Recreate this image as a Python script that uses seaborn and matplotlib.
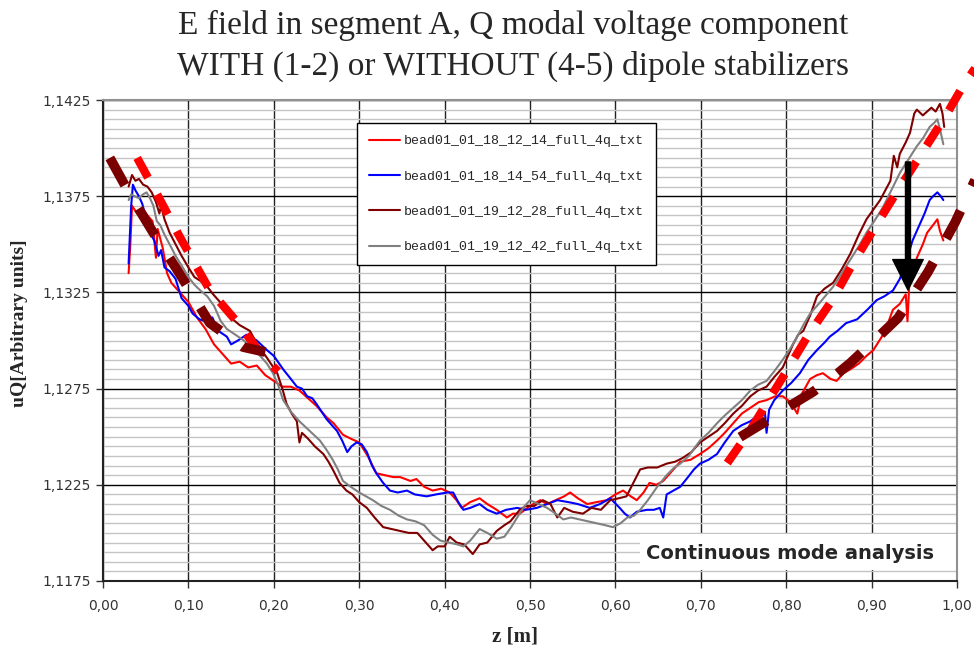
import numpy as np
import pandas as pd
import matplotlib
matplotlib.use("Agg")
import matplotlib.pyplot as plt
import seaborn as sns
from matplotlib.ticker import MultipleLocator, FixedLocator, FuncFormatter
from matplotlib.patches import Rectangle

# ---- data: z [m] and uQ [arbitrary units] ----
labels = ["bead01_01_18_12_14_full_4q_txt", "bead01_01_18_14_54_full_4q_txt",
          "bead01_01_19_12_28_full_4q_txt", "bead01_01_19_12_42_full_4q_txt"]
colors = ["#ff0000", "#0000ff", "#800000", "#808080"]
y_ticks = [1.1175, 1.1225, 1.1275, 1.1325, 1.1375, 1.1425]

z_red = [0.030, 0.032, 0.034, 0.040, 0.046, 0.052, 0.058, 0.062, 0.064, 0.070, 0.075, 0.080,
         0.090, 0.100, 0.110, 0.120, 0.130, 0.140, 0.150, 0.160, 0.170, 0.180, 0.190, 0.200,
         0.210, 0.220, 0.230, 0.240, 0.250, 0.262, 0.270, 0.281, 0.290, 0.300, 0.310, 0.320,
         0.330, 0.340, 0.348, 0.360, 0.367, 0.376, 0.386, 0.396, 0.406, 0.414, 0.420, 0.430,
         0.441, 0.450, 0.461, 0.473, 0.480, 0.488, 0.500, 0.512, 0.520, 0.530, 0.540, 0.547,
         0.556, 0.567, 0.578, 0.590, 0.600, 0.609, 0.618, 0.625, 0.633, 0.640, 0.648, 0.656,
         0.666, 0.676, 0.688, 0.699, 0.709, 0.719, 0.728, 0.738, 0.748, 0.758, 0.768, 0.777,
         0.787, 0.796, 0.805, 0.813, 0.818, 0.828, 0.836, 0.843, 0.852, 0.859, 0.867, 0.875,
         0.885, 0.894, 0.902, 0.912, 0.920, 0.925, 0.933, 0.940, 0.942, 0.944, 0.953, 0.960,
         0.965, 0.972, 0.977, 0.980, 0.984]
u_red = [1.1335, 1.1350, 1.1370, 1.1366, 1.1369, 1.1365, 1.1362, 1.1343, 1.1358, 1.1348, 1.1335, 1.1330,
         1.1325, 1.1320, 1.1312, 1.1306, 1.1298, 1.1293, 1.1288, 1.1289, 1.1286, 1.1287, 1.1282, 1.1279,
         1.1276, 1.1276, 1.1274, 1.1270, 1.1266, 1.1260, 1.1257, 1.1251, 1.1249, 1.1247, 1.1240, 1.1231,
         1.1230, 1.1229, 1.1229, 1.1227, 1.1228, 1.1224, 1.1222, 1.1223, 1.1221, 1.1217, 1.1213, 1.1216,
         1.1218, 1.1215, 1.1212, 1.1208, 1.1210, 1.1210, 1.1214, 1.1217, 1.1215, 1.1217, 1.1219, 1.1221,
         1.1218, 1.1215, 1.1216, 1.1217, 1.1220, 1.1222, 1.1219, 1.1217, 1.1221, 1.1226, 1.1225, 1.1227,
         1.1232, 1.1237, 1.1238, 1.1241, 1.1244, 1.1248, 1.1252, 1.1257, 1.1262, 1.1265, 1.1268, 1.1269,
         1.1271, 1.1271, 1.1268, 1.1262, 1.1272, 1.1280, 1.1282, 1.1283, 1.1280, 1.1279, 1.1283, 1.1285,
         1.1288, 1.1292, 1.1295, 1.1302, 1.1310, 1.1316, 1.1319, 1.1324, 1.1310, 1.1328, 1.1343, 1.1350,
         1.1356, 1.1360, 1.1363, 1.1357, 1.1352]

z_blue = [0.030, 0.031, 0.033, 0.035, 0.038, 0.042, 0.046, 0.050, 0.055, 0.060, 0.065, 0.068,
          0.072, 0.078, 0.085, 0.092, 0.100, 0.105, 0.113, 0.120, 0.128, 0.135, 0.145, 0.150,
          0.158, 0.168, 0.180, 0.192, 0.200, 0.211, 0.220, 0.227, 0.233, 0.239, 0.245, 0.250,
          0.256, 0.262, 0.268, 0.274, 0.280, 0.286, 0.291, 0.297, 0.303, 0.309, 0.315, 0.320,
          0.328, 0.336, 0.345, 0.356, 0.365, 0.379, 0.390, 0.403, 0.410, 0.416, 0.422, 0.430,
          0.441, 0.450, 0.461, 0.472, 0.485, 0.495, 0.508, 0.520, 0.532, 0.545, 0.556, 0.570,
          0.582, 0.594, 0.605, 0.611, 0.617, 0.625, 0.637, 0.645, 0.652, 0.656, 0.660, 0.668,
          0.676, 0.685, 0.692, 0.699, 0.709, 0.719, 0.728, 0.738, 0.748, 0.758, 0.767, 0.775,
          0.777, 0.780, 0.786, 0.796, 0.806, 0.816, 0.826, 0.836, 0.845, 0.851, 0.860, 0.870,
          0.883, 0.895, 0.906, 0.915, 0.925, 0.933, 0.941, 0.948, 0.957, 0.962, 0.968, 0.972,
          0.977, 0.981, 0.984]
u_blue = [1.1340, 1.1350, 1.1370, 1.1381, 1.1378, 1.1375, 1.1371, 1.1364, 1.1356, 1.1352, 1.1344, 1.1347,
          1.1338, 1.1336, 1.1332, 1.1322, 1.1318, 1.1314, 1.1311, 1.1310, 1.1312, 1.1305, 1.1302, 1.1298,
          1.1300, 1.1303, 1.1300, 1.1295, 1.1292, 1.1285, 1.1280, 1.1276, 1.1275, 1.1271, 1.1270, 1.1267,
          1.1263, 1.1259, 1.1256, 1.1253, 1.1248, 1.1242, 1.1245, 1.1247, 1.1246, 1.1242, 1.1235, 1.1231,
          1.1226, 1.1222, 1.1221, 1.1222, 1.1220, 1.1219, 1.1220, 1.1221, 1.1221, 1.1216, 1.1212, 1.1213,
          1.1215, 1.1212, 1.1210, 1.1212, 1.1213, 1.1212, 1.1213, 1.1215, 1.1217, 1.1216, 1.1215, 1.1213,
          1.1215, 1.1218, 1.1213, 1.1210, 1.1208, 1.1211, 1.1212, 1.1212, 1.1213, 1.1208, 1.1220, 1.1222,
          1.1224, 1.1229, 1.1233, 1.1236, 1.1238, 1.1241, 1.1247, 1.1253, 1.1256, 1.1258, 1.1261, 1.1263,
          1.1252, 1.1264, 1.1269, 1.1274, 1.1278, 1.1283, 1.1290, 1.1295, 1.1299, 1.1302, 1.1305, 1.1309,
          1.1311, 1.1316, 1.1321, 1.1323, 1.1326, 1.1332, 1.1342, 1.1352, 1.1361, 1.1366, 1.1373, 1.1375,
          1.1377, 1.1375, 1.1373]

z_dred = [0.030, 0.032, 0.034, 0.038, 0.042, 0.047, 0.052, 0.057, 0.062, 0.066, 0.068, 0.072,
          0.078, 0.085, 0.092, 0.100, 0.107, 0.114, 0.122, 0.129, 0.137, 0.145, 0.152, 0.160,
          0.172, 0.182, 0.192, 0.198, 0.204, 0.210, 0.215, 0.221, 0.227, 0.230, 0.233, 0.240,
          0.248, 0.258, 0.264, 0.269, 0.277, 0.285, 0.292, 0.300, 0.309, 0.318, 0.328, 0.338,
          0.348, 0.358, 0.368, 0.376, 0.386, 0.392, 0.400, 0.406, 0.414, 0.423, 0.433, 0.441,
          0.450, 0.461, 0.470, 0.477, 0.488, 0.495, 0.505, 0.515, 0.524, 0.532, 0.540, 0.550,
          0.562, 0.572, 0.583, 0.594, 0.604, 0.613, 0.621, 0.629, 0.638, 0.649, 0.660, 0.670,
          0.679, 0.689, 0.699, 0.709, 0.719, 0.728, 0.738, 0.748, 0.758, 0.767, 0.777, 0.786,
          0.796, 0.802, 0.808, 0.814, 0.820, 0.828, 0.836, 0.845, 0.855, 0.865, 0.875, 0.885,
          0.894, 0.902, 0.910, 0.916, 0.922, 0.926, 0.930, 0.933, 0.940, 0.945, 0.950, 0.953,
          0.960, 0.965, 0.970, 0.975, 0.980, 0.983, 0.985]
u_dred = [1.1380, 1.1383, 1.1386, 1.1383, 1.1384, 1.1381, 1.1380, 1.1377, 1.1372, 1.1366, 1.1370, 1.1363,
          1.1356, 1.1350, 1.1344, 1.1338, 1.1333, 1.1331, 1.1328, 1.1324, 1.1320, 1.1315, 1.1311, 1.1308,
          1.1305, 1.1297, 1.1291, 1.1287, 1.1283, 1.1275, 1.1267, 1.1262, 1.1258, 1.1247, 1.1252, 1.1249,
          1.1245, 1.1241, 1.1237, 1.1233, 1.1226, 1.1222, 1.1220, 1.1216, 1.1213, 1.1208, 1.1203, 1.1202,
          1.1201, 1.1200, 1.1200, 1.1196, 1.1191, 1.1193, 1.1193, 1.1198, 1.1195, 1.1194, 1.1189, 1.1194,
          1.1195, 1.1201, 1.1204, 1.1206, 1.1212, 1.1214, 1.1214, 1.1217, 1.1215, 1.1208, 1.1213, 1.1211,
          1.1210, 1.1213, 1.1212, 1.1217, 1.1218, 1.1219, 1.1226, 1.1233, 1.1234, 1.1234, 1.1236, 1.1237,
          1.1239, 1.1242, 1.1247, 1.1250, 1.1253, 1.1257, 1.1262, 1.1266, 1.1271, 1.1274, 1.1276, 1.1281,
          1.1286, 1.1292, 1.1298, 1.1303, 1.1305, 1.1313, 1.1323, 1.1327, 1.1330, 1.1337, 1.1345, 1.1355,
          1.1363, 1.1368, 1.1373, 1.1378, 1.1383, 1.1396, 1.1390, 1.1397, 1.1403, 1.1408, 1.1418, 1.1420,
          1.1417, 1.1419, 1.1421, 1.1419, 1.1423, 1.1418, 1.1411]

z_gray = [0.030, 0.033, 0.037, 0.042, 0.047, 0.051, 0.055, 0.059, 0.063, 0.067, 0.072, 0.078,
          0.085, 0.092, 0.100, 0.107, 0.114, 0.122, 0.130, 0.138, 0.145, 0.155, 0.165, 0.175,
          0.184, 0.192, 0.199, 0.205, 0.211, 0.220, 0.230, 0.242, 0.254, 0.262, 0.269, 0.275,
          0.281, 0.290, 0.300, 0.308, 0.316, 0.326, 0.336, 0.346, 0.356, 0.366, 0.376, 0.386,
          0.395, 0.405, 0.415, 0.422, 0.430, 0.441, 0.450, 0.461, 0.470, 0.478, 0.485, 0.492,
          0.500, 0.510, 0.520, 0.530, 0.539, 0.548, 0.558, 0.568, 0.578, 0.588, 0.597, 0.606,
          0.614, 0.622, 0.629, 0.638, 0.649, 0.660, 0.669, 0.676, 0.686, 0.699, 0.709, 0.719,
          0.728, 0.738, 0.748, 0.758, 0.767, 0.777, 0.786, 0.796, 0.805, 0.813, 0.820, 0.828,
          0.840, 0.855, 0.865, 0.875, 0.885, 0.894, 0.903, 0.913, 0.923, 0.933, 0.943, 0.953,
          0.960, 0.968, 0.973, 0.977, 0.980, 0.984]
u_gray = [1.1373, 1.1376, 1.1375, 1.1374, 1.1376, 1.1377, 1.1374, 1.1370, 1.1362, 1.1360, 1.1355, 1.1350,
          1.1344, 1.1339, 1.1333, 1.1329, 1.1326, 1.1323, 1.1318, 1.1310, 1.1306, 1.1303, 1.1300, 1.1296,
          1.1292, 1.1288, 1.1283, 1.1277, 1.1269, 1.1263, 1.1258, 1.1253, 1.1248, 1.1243, 1.1238, 1.1233,
          1.1227, 1.1224, 1.1221, 1.1219, 1.1217, 1.1214, 1.1212, 1.1209, 1.1207, 1.1206, 1.1204, 1.1199,
          1.1196, 1.1195, 1.1194, 1.1193, 1.1196, 1.1202, 1.1200, 1.1197, 1.1198, 1.1203, 1.1208, 1.1213,
          1.1217, 1.1215, 1.1213, 1.1210, 1.1207, 1.1208, 1.1207, 1.1206, 1.1205, 1.1204, 1.1203, 1.1205,
          1.1208, 1.1209, 1.1212, 1.1217, 1.1224, 1.1230, 1.1234, 1.1236, 1.1240, 1.1248, 1.1252, 1.1257,
          1.1261, 1.1265, 1.1269, 1.1274, 1.1277, 1.1279, 1.1284, 1.1290, 1.1296, 1.1302, 1.1308, 1.1314,
          1.1320, 1.1328, 1.1335, 1.1342, 1.1349, 1.1356, 1.1362, 1.1369, 1.1378, 1.1387, 1.1394, 1.1401,
          1.1405, 1.1411, 1.1413, 1.1415, 1.1410, 1.1402]

# hand-drawn dashed guide curves (only drawn near both ends)
guide_red_left_z = [0.040, 0.065, 0.090, 0.125, 0.157, 0.188, 0.205]
guide_red_left_u = [1.13949, 1.13746, 1.13538, 1.13262, 1.13096, 1.12914, 1.12840]
guide_dred_left_z = [0.008, 0.032, 0.059, 0.087, 0.125, 0.164, 0.190]
guide_dred_left_u = [1.13949, 1.13756, 1.13559, 1.13366, 1.13091, 1.12966, 1.12940]
guide_red_right_z = [0.731, 0.758, 0.799, 0.826, 0.854, 0.877, 0.904, 0.931, 0.959, 0.986, 1.009, 1.022]
guide_red_right_u = [1.12363, 1.12535, 1.12831, 1.13029, 1.13210, 1.13392, 1.13590, 1.13782,
                     1.13975, 1.14162, 1.14338, 1.14420]
guide_dred_right_z = [0.746, 0.775, 0.802, 0.831, 0.855, 0.875, 0.904, 0.931, 0.966, 0.998, 1.020, 1.040]
guide_dred_right_u = [1.12498, 1.12576, 1.12654, 1.12732, 1.12810, 1.12883, 1.13003, 1.13117,
                      1.13356, 1.13616, 1.13824, 1.14000]

frames = []
for lab, zz, uu in zip(labels, [z_red, z_blue, z_dred, z_gray], [u_red, u_blue, u_dred, u_gray]):
    frames.append(pd.DataFrame({"z": zz, "uQ": uu, "series": lab}))
df = pd.concat(frames, ignore_index=True)

sns.set_theme(style="white")
plt.rcParams["font.family"] = ["DejaVu Sans"]

fig = plt.figure(figsize=(9.74, 6.51), dpi=100)
ax = fig.add_axes([103 / 974, 1 - 581 / 651, 854 / 974, 481 / 651])

sns.lineplot(data=df, x="z", y="uQ", hue="series", palette=dict(zip(labels, colors)),
             estimator=None, sort=False, linewidth=1.5, ax=ax, zorder=3)

# guide dashed curves
ax.plot(guide_red_left_z, guide_red_left_u, color="#ff0000", lw=6, dashes=(2.7, 2.3),
        dash_capstyle="butt", zorder=4, clip_on=False)
ax.plot(guide_dred_left_z, guide_dred_left_u, color="#7a0000", lw=7, dashes=(3.2, 2.8),
        dash_capstyle="butt", zorder=4, clip_on=False)
ax.plot(guide_red_right_z, guide_red_right_u, color="#ff0000", lw=6, dashes=(2.7, 2.3),
        dash_capstyle="butt", zorder=4, clip_on=False)
ax.plot(guide_dred_right_z, guide_dred_right_u, color="#7a0000", lw=7, dashes=(3.2, 2.8),
        dash_capstyle="butt", zorder=4, clip_on=False)

# arrow
ax.annotate("", xy=(0.9426, 1.13262), xytext=(0.9426, 1.13928),
            arrowprops=dict(facecolor="black", edgecolor="black", width=3.6,
                            headwidth=22, headlength=22, shrink=0), zorder=6)

ax.set_xlim(0, 1)
ax.set_ylim(1.1175, 1.1425)
ax.xaxis.set_major_locator(MultipleLocator(0.1))
ax.yaxis.set_major_locator(FixedLocator(y_ticks))
ax.yaxis.set_minor_locator(MultipleLocator(0.0005))
ax.xaxis.set_major_formatter(FuncFormatter(lambda v, p: f"{v:.2f}".replace(".", ",")))
ax.yaxis.set_major_formatter(FuncFormatter(lambda v, p: f"{v:.4f}".replace(".", ",")))
ax.set_axisbelow(True)
ax.grid(which="minor", axis="y", color="#c4c4c4", lw=1.0)
ax.grid(which="major", axis="y", color="black", lw=1.0)
ax.grid(which="major", axis="x", color="#222222", lw=1.0)
ax.tick_params(axis="both", which="major", direction="out", length=5, width=1,
               color="#333333", labelcolor="#333333", labelsize=10)
ax.tick_params(axis="y", which="major", left=True, pad=4)
ax.tick_params(axis="x", which="major", bottom=True, pad=8)
ax.tick_params(which="minor", left=False, bottom=False)
ax.set_xlabel("")
ax.set_ylabel("")
for s in ["left", "bottom"]:
    ax.spines[s].set_color("#222222")
    ax.spines[s].set_linewidth(1.5)
for s in ["top", "right"]:
    ax.spines[s].set_color("#909090")
    ax.spines[s].set_linewidth(1.5)

# white box with annotation text
ax.add_patch(Rectangle((0.629, 1.11805), 0.371, 0.0019, facecolor="white",
                       edgecolor="none", zorder=1))
ax.text(0.805, 1.11895, "Continuous mode analysis", ha="center", va="center",
        fontsize=14, fontweight="bold", family="DejaVu Sans", zorder=7)

# legend
handles, _ = ax.get_legend_handles_labels()
leg = ax.legend(handles, labels, loc="upper left", bbox_to_anchor=(0.297, 0.952),
                borderaxespad=0, frameon=True, fancybox=False, framealpha=1,
                edgecolor="black", prop={"family": "Liberation Mono", "size": 9.5},
                labelspacing=1.75, handlelength=2.4, handletextpad=0.3, borderpad=0.9)
leg.get_frame().set_linewidth(1.0)
leg.set_zorder(8)

# titles and axis labels
fig.text(0.527, 1 - 25 / 651, "E field in segment A, Q modal voltage component",
         ha="center", va="center", family="Liberation Serif", fontsize=24)
fig.text(0.527, 1 - 66 / 651, "WITH (1-2) or WITHOUT (4-5) dipole stabilizers",
         ha="center", va="center", family="Liberation Serif", fontsize=24)
fig.text(515 / 974, 1 - 636 / 651, "z [m]", ha="center", va="center",
         family="Liberation Serif", fontweight="bold", fontsize=15)
fig.text(20 / 974, 1 - 323 / 651, "uQ[Arbitrary units]", ha="center", va="center",
         rotation=90, family="Liberation Serif", fontweight="bold", fontsize=14)

fig.savefig("out.png", dpi=100)
